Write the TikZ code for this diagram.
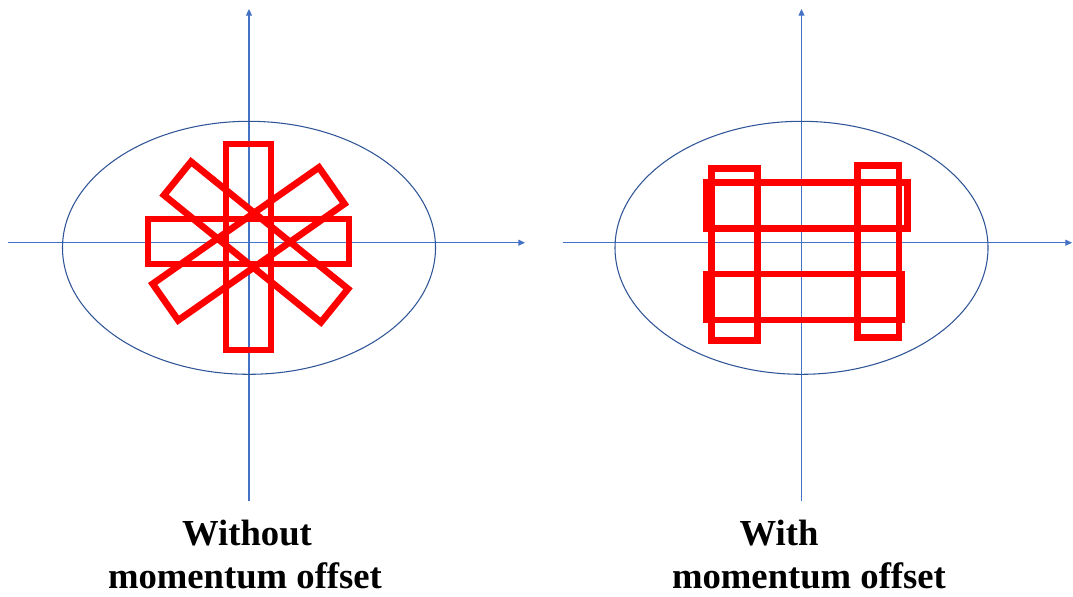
\documentclass[tikz,border=0pt]{standalone}
\usepackage{fontspec}
\setmainfont{Liberation Serif}
\usepackage{xcolor}
\definecolor{axisblue}{RGB}{68,114,196}
\definecolor{rimblue}{RGB}{47,85,151}
\definecolor{beamred}{RGB}{255,0,0}
\usetikzlibrary{arrows.meta}

\begin{document}
\begin{tikzpicture}[x=0.75pt,y=-0.75pt,
  axis/.style={-{Triangle[length=5pt,width=4.5pt]},axisblue,line width=0.8pt},
  rim/.style={rimblue,line width=0.8pt},
  beam/.style={beamred,line width=5pt,line join=miter},
  caption/.style={font=\bfseries\fontsize{27.5}{33}\selectfont,anchor=base,inner sep=0pt}]
  \useasboundingbox (0,0) rectangle (1073,596);
  % Left: without offset
  \draw[axis] (8,242.7) -- (525,242.7);
  \draw[axis] (249,501) -- (249,9);
  \draw[rim] (249,247.8) ellipse [x radius=186.5,y radius=126.5];
  \draw[beam] (226,144) rectangle (271,350);
  \draw[beam] (148,219) rectangle (349,264);
  \draw[beam,rotate around={-39:(256,242)}] (155,220.5) rectangle (357,263.5);
  \draw[beam,rotate around={35:(248.7,243.7)}] (147,221.5) rectangle (350,266);
  \node[caption] (wo1) at (247,545) {Without};
  \node[caption] (wo2) at (245,588) {momentum offset};
  % Right: with offset
  \draw[axis] (563,242.7) -- (1072,242.7);
  \draw[axis] (801.5,501) -- (801.5,9);
  \draw[rim] (801.5,247.8) ellipse [x radius=186.5,y radius=126.5];
  \draw[beam] (711.7,168.3) rectangle (757.3,340.7);
  \draw[beam] (857.3,165.7) rectangle (899,337.7);
  \draw[beam] (706,182.7) rectangle (907.7,228.3);
  \draw[beam] (706,274) rectangle (901.7,320);
  \node[caption] (wi1) at (779,545) {With};
  \node[caption] (wi2) at (809,588) {momentum offset};
\end{tikzpicture}
\end{document}
